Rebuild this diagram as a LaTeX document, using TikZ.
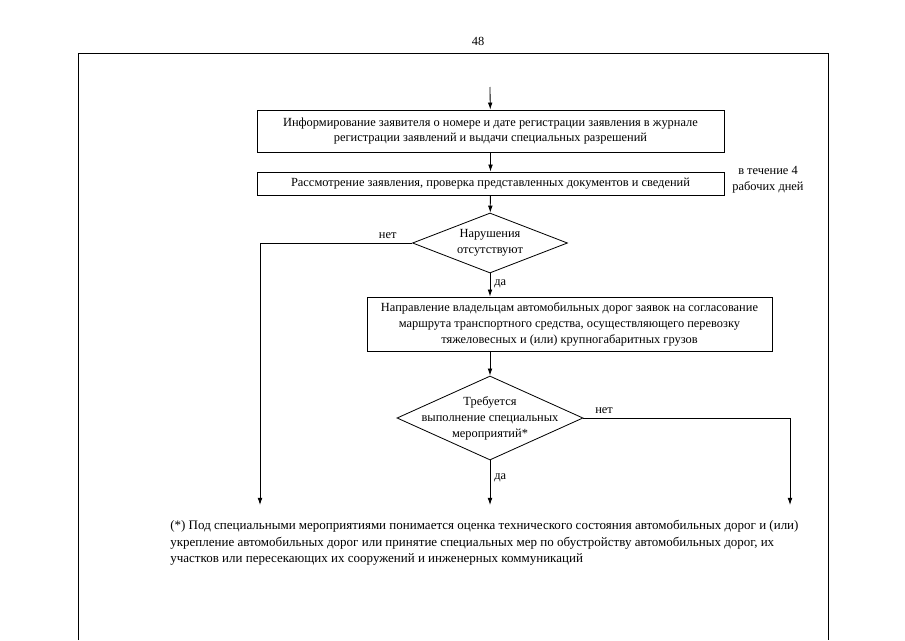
\documentclass[tikz,border=0pt]{standalone}
\usepackage{fontspec}
\setmainfont{Liberation Serif}
\usetikzlibrary{arrows.meta, shapes.geometric}

\begin{document}
\begin{tikzpicture}[x=0.03cm, y=-0.03cm, line width=0.7pt,
    font=\fontsize{10.6}{13.6}\selectfont,
    box/.style={draw, rectangle, align=center, inner sep=0pt},
    dia/.style={draw, diamond, inner sep=0pt},
    arr/.style={-{Latex[length=6pt,width=4pt]}}]
    \useasboundingbox (0,0) rectangle (905,640);
    % page number and frame
    \node (page) at (478,41) {48};
    \draw (78,640) -- (78,53) -- (828,53) -- (828,640);
    % blocks
    \coordinate (start) at (490,87);
    \node[box, minimum width=14.01cm, minimum height=1.26cm] (inform) at (490.5,131)
        {Информирование заявителя о номере и дате регистрации заявления в журнале\\регистрации заявлений и выдачи специальных разрешений};
    \node[box, minimum width=14.01cm, minimum height=0.69cm] (review) at (490.5,183.5)
        {Рассмотрение заявления, проверка представленных документов и сведений};
    \node[align=center] (term) at (768,180) {в течение 4\\рабочих дней};
    \node[dia, minimum width=4.65cm, minimum height=1.8cm,
        label={[align=center]center:Нарушения\\отсутствуют}] (check) at (490,243) {};
    \node[box, minimum width=12.15cm, minimum height=1.62cm] (send) at (569.5,324)
        {Направление владельцам автомобильных дорог заявок на согласование\\маршрута транспортного средства, осуществляющего перевозку\\тяжеловесных и (или) крупногабаритных грузов};
    \node[dia, minimum width=5.58cm, minimum height=2.52cm,
        label={[align=center]center:Требуется\\выполнение специальных\\мероприятий*}] (special) at (490,418) {};
    % open ends
    \coordinate (endl) at (260,505);
    \coordinate (endm) at (490,505);
    \coordinate (endr) at (790,505);
    % connectors
    \draw[arr] (start) -- (inform);
    \draw[arr] (inform) -- (review);
    \draw[arr] (review) -- (check);
    \draw[arr] (check.south) -- node[right, pos=0.45] {да} (check.south |- send.north);
    \draw[arr] (check.west) -| node[pos=0.08, above] {нет} (endl);
    \draw[arr] (special.north |- send.south) -- (special.north);
    \draw[arr] (special) -- node[right, pos=0.4] {да} (endm);
    \draw[arr] (special.east) -| node[pos=0.05, above] {нет} (endr);
    % footnote
    \node[anchor=north west, align=left, font=\fontsize{11.1}{14.2}\selectfont] (note) at (166,516)
        {(*) Под специальными мероприятиями понимается оценка технического состояния автомобильных дорог и (или)\\
         укрепление автомобильных дорог или принятие специальных мер по обустройству автомобильных дорог, их\\
         участков или пересекающих их сооружений и инженерных коммуникаций};
\end{tikzpicture}
\end{document}
